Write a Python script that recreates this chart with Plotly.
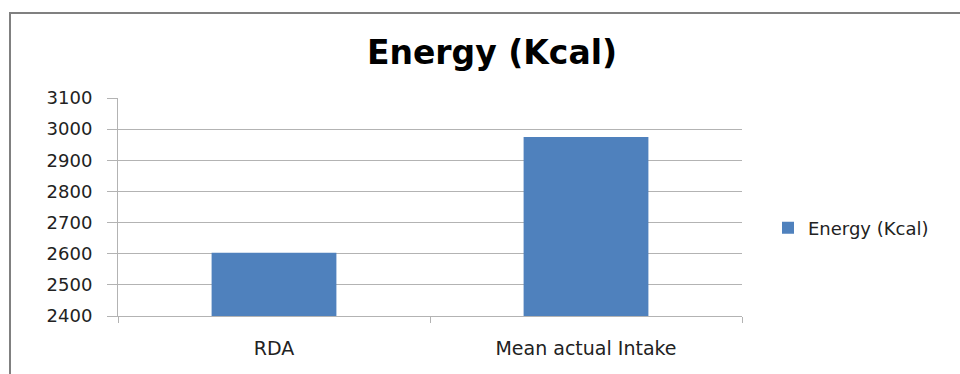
import plotly.graph_objects as go

categories = ["RDA", "Mean actual Intake"]
energy_kcal = [2603, 2975]
y_ticks = [2400, 2500, 2600, 2700, 2800, 2900, 3000, 3100]

series_name = "Energy (Kcal)"
bar_color = "#4f81bd"
grid_color = "#b3b3b3"
text_font = "DejaVu Sans"
text_color = "#222222"

fig = go.Figure()
fig.add_trace(go.Bar(
    x=categories,
    y=energy_kcal,
    name=series_name,
    marker=dict(color=bar_color, line=dict(width=0)),
    showlegend=True,
))

fig.update_layout(
    width=960,
    height=374,
    paper_bgcolor="white",
    plot_bgcolor="white",
    margin=dict(l=118, r=218, t=98, b=58),
    bargap=0.6,
    title=dict(
        text="<b>Energy (Kcal)</b>",
        x=492 / 960,
        xanchor="center",
        y=1 - 52 / 374,
        yanchor="middle",
        font=dict(family="DejaVu Sans", size=33, color="#000000"),
    ),
    legend=dict(
        x=768 / 960,
        xanchor="left",
        y=1 - 228 / 374,
        yanchor="middle",
        xref="container",
        yref="container",
        font=dict(family=text_font, size=18, color=text_color),
        itemwidth=30,
        bgcolor="rgba(0,0,0,0)",
    ),
    showlegend=True,
)

fig.update_yaxes(
    range=[2400, 3100],
    tickvals=y_ticks,
    ticktext=[str(v) for v in y_ticks],
    showgrid=True,
    gridcolor=grid_color,
    gridwidth=1,
    showline=True,
    linecolor=grid_color,
    linewidth=1,
    ticks="outside",
    ticklen=10,
    tickcolor=grid_color,
    ticklabelstandoff=11,
    tickfont=dict(family=text_font, size=18, color=text_color),
    zeroline=False,
)

fig.update_xaxes(
    showgrid=False,
    showline=True,
    linecolor=grid_color,
    linewidth=1,
    ticks="outside",
    tickson="boundaries",
    ticklen=6,
    tickcolor=grid_color,
    ticklabelstandoff=15,
    tickfont=dict(family=text_font, size=19, color=text_color),
)

# Chart-area frame: left and top edges run off the page
fig.add_shape(
    type="rect",
    xref="paper", yref="paper",
    x0=-(118 - 10) / 624, x1=1 + 240 / 624,
    y0=-(58 + 20) / 218, y1=1 + (98 - 13) / 218,
    line=dict(color="#808080", width=2),
    fillcolor="rgba(0,0,0,0)",
    layer="above",
)

fig.write_html("out.html")
